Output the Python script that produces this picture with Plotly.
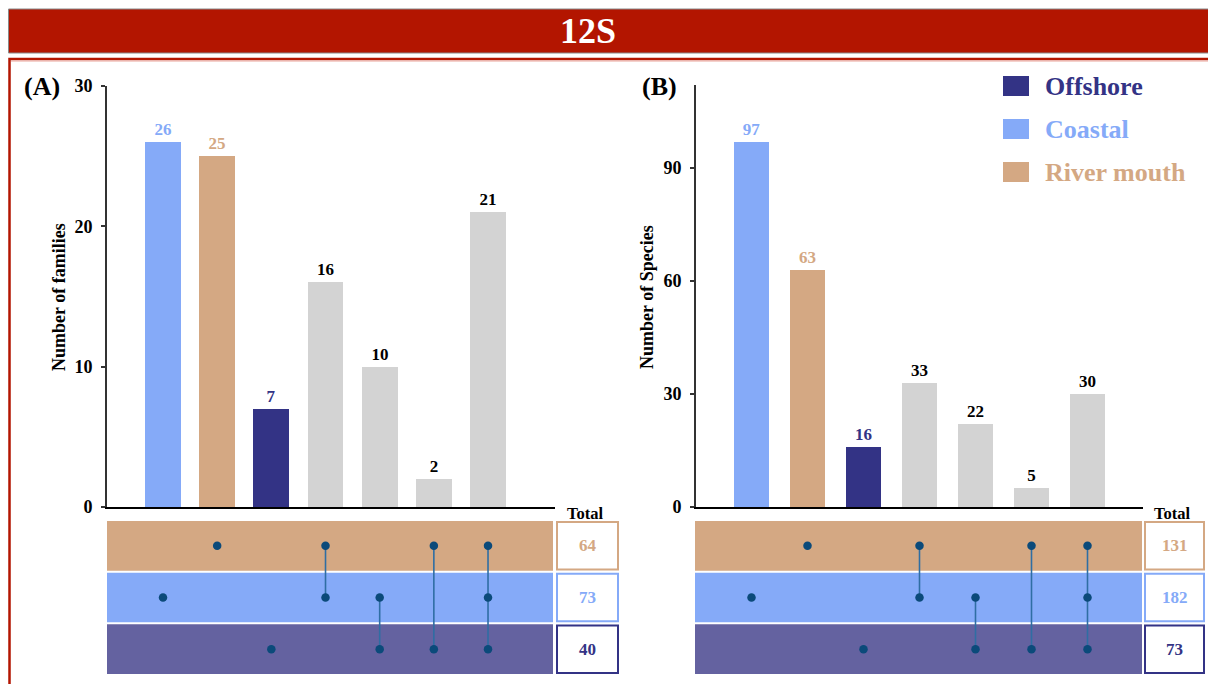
import plotly.graph_objects as go

# ---------------- data ----------------
categories = ["Coastal", "River mouth", "Offshore", "River mouth & Coastal",
              "Coastal & Offshore", "River mouth & Offshore", "All three"]
families = [26, 25, 7, 16, 10, 2, 21]
species = [97, 63, 16, 33, 22, 5, 30]
sets = ["Offshore", "Coastal", "River mouth"]          # matrix rows, bottom -> top
membership = [["Coastal"], ["River mouth"], ["Offshore"],
              ["River mouth", "Coastal"], ["Coastal", "Offshore"],
              ["River mouth", "Offshore"], ["River mouth", "Coastal", "Offshore"]]
yticks_a = [0, 10, 20, 30]
yticks_b = [0, 30, 60, 90]

# ---------------- styles ----------------
W, H = 1208, 684
FONT = "Times New Roman, Liberation Serif, serif"
C_COAST = "#85aaf8"
C_RIVER = "#d4a883"
C_OFF = "#333385"
C_OFF_ROW = "#6462a0"
C_GREY = "#d3d3d3"
C_DOT = "#0b4a7a"
C_LINK = "#2f6ea3"
C_RED = "#b31500"
set_color = {"Coastal": C_COAST, "River mouth": C_RIVER, "Offshore": C_OFF}
row_color = {"Coastal": C_COAST, "River mouth": C_RIVER, "Offshore": C_OFF_ROW}
box_color = {"Coastal": C_COAST, "River mouth": C_RIVER, "Offshore": C_OFF}


def px(x):
    return x / W


def py(y):
    return 1 - y / H


def bar_colors(mem):
    return [set_color[m[0]] if len(m) == 1 else C_GREY for m in mem]


def text_colors(mem):
    return [set_color[m[0]] if len(m) == 1 else "black" for m in mem]


xs = list(range(len(categories)))
fig = go.Figure()

panels = [
    dict(vals=families, xa="x", ya="y", mx="x2", my="y2", xaxis="xaxis", yaxis="yaxis",
         mxaxis="xaxis2", myaxis="yaxis2",
         ax_left=107, ax_right=555, m_left=107, m_right=553, c0=163, step=54.17,
         top=86, yr=[0, 30], ticks=yticks_a, bw=0.66,
         box=(557, 618), label="(A)", label_x=22, ytitle="Number of families", ytitle_x=59,
         total_x=585),
    dict(vals=species, xa="x3", ya="y3", mx="x4", my="y4", xaxis="xaxis3", yaxis="yaxis3",
         mxaxis="xaxis4", myaxis="yaxis4",
         ax_left=696, ax_right=1143, m_left=695, m_right=1142, c0=751.5, step=56.0,
         top=85, yr=[0, 112], ticks=yticks_b, bw=0.63,
         box=(1145, 1204), label="(B)", label_x=640, ytitle="Number of Species", ytitle_x=647,
         total_x=1172),
]

shapes = []
annotations = []
layout_axes = {}

for p in panels:
    # bars
    fig.add_trace(go.Bar(
        x=xs, y=p["vals"], xaxis=p["xa"], yaxis=p["ya"],
        marker=dict(color=bar_colors(membership), line=dict(width=0)),
        width=p["bw"], text=p["vals"], textposition="outside",
        textfont=dict(family=FONT, size=17, color=text_colors(membership), weight="bold"),
        cliponaxis=False, showlegend=False, hoverinfo="skip"))

    # matrix connections and dots
    for i, mem in enumerate(membership):
        rows = sorted(sets.index(m) for m in mem)
        if len(rows) > 1:
            fig.add_trace(go.Scatter(
                x=[i, i], y=[rows[0], rows[-1]], xaxis=p["mx"], yaxis=p["my"],
                mode="lines", line=dict(color=C_LINK, width=1.6),
                showlegend=False, hoverinfo="skip"))
        fig.add_trace(go.Scatter(
            x=[i] * len(rows), y=rows, xaxis=p["mx"], yaxis=p["my"],
            mode="markers", marker=dict(color=C_DOT, size=8.5),
            showlegend=False, hoverinfo="skip"))

    r0 = -(p["c0"] - p["ax_left"]) / p["step"]
    r1 = 6 + (p["ax_right"] - (p["c0"] + 6 * p["step"])) / p["step"]
    mr0 = -(p["c0"] - p["m_left"]) / p["step"]
    mr1 = 6 + (p["m_right"] - (p["c0"] + 6 * p["step"])) / p["step"]

    layout_axes[p["xaxis"]] = dict(
        domain=[px(p["ax_left"]), px(p["ax_right"])], range=[r0, r1],
        anchor=p["ya"], showline=True, linecolor="black", linewidth=2,
        showticklabels=False, ticks="", showgrid=False, zeroline=False, automargin=False)
    layout_axes[p["yaxis"]] = dict(
        domain=[py(507), py(p["top"])], range=p["yr"], anchor=p["xa"],
        tickvals=p["ticks"], ticks="outside", ticklen=4, tickwidth=1.5, tickcolor="#333",
        showline=True, linecolor="#333", linewidth=2, showgrid=False, zeroline=False,
        ticklabelstandoff=5, automargin=False,
        tickfont=dict(family=FONT, size=18, color="black", weight="bold"))
    layout_axes[p["mxaxis"]] = dict(
        domain=[px(p["m_left"]), px(p["m_right"])], range=[mr0, mr1], anchor=p["my"],
        visible=False, automargin=False)
    layout_axes[p["myaxis"]] = dict(
        domain=[py(675), py(520)], range=[-0.5, 2.5], anchor=p["mx"], visible=False,
        automargin=False)

    for j, s in enumerate(sets):
        shapes.append(dict(type="rect", xref=p["mx"] + " domain", yref=p["my"],
                           x0=0, x1=1, y0=j - 0.48, y1=j + 0.48,
                           fillcolor=row_color[s], line=dict(width=0), layer="below"))
        total = sum(v for v, mem in zip(p["vals"], membership) if s in mem)
        shapes.append(dict(type="rect", xref="paper", yref=p["my"],
                           x0=px(p["box"][0]), x1=px(p["box"][1]),
                           y0=j - 0.46, y1=j + 0.46, fillcolor="white",
                           line=dict(color=box_color[s], width=2)))
        annotations.append(dict(
            x=px((p["box"][0] + p["box"][1]) / 2), y=j, xref="paper", yref=p["my"],
            text=str(total), showarrow=False, xanchor="center", yanchor="middle",
            font=dict(family=FONT, size=17, color=box_color[s], weight="bold")))

    annotations.append(dict(x=px(p["total_x"]), y=py(513), xref="paper", yref="paper",
                            text="Total", showarrow=False, xanchor="center", yanchor="middle",
                            font=dict(family=FONT, size=16.5, color="black", weight="bold")))
    annotations.append(dict(x=px(p["label_x"]), y=py(86), xref="paper", yref="paper",
                            text=p["label"], showarrow=False, xanchor="left", yanchor="middle",
                            font=dict(family=FONT, size=26, color="black", weight="bold")))
    annotations.append(dict(x=px(p["ytitle_x"]), y=py(297), xref="paper", yref="paper",
                            text=p["ytitle"], showarrow=False, textangle=-90,
                            xanchor="center", yanchor="middle",
                            font=dict(family=FONT, size=18, color="black", weight="bold")))

# title bar and frame
shapes.insert(0, dict(type="rect", xref="paper", yref="paper", x0=px(8.5), x1=px(1215),
                      y0=py(53), y1=py(9), fillcolor=C_RED, line=dict(color="#8a8a8a", width=1),
                      layer="below"))
shapes.insert(1, dict(type="rect", xref="paper", yref="paper", x0=px(9.5), x1=px(1220),
                      y0=py(700), y1=py(59), fillcolor="rgba(0,0,0,0)",
                      line=dict(color=C_RED, width=2.5), layer="below"))
shapes.insert(2, dict(type="line", xref="paper", yref="paper", x0=px(11), x1=px(1220),
                      y0=py(61), y1=py(61), line=dict(color="#eaa49a", width=1),
                      layer="below"))
annotations.append(dict(x=px(588), y=py(31), xref="paper", yref="paper", text="12S",
                        showarrow=False, xanchor="center", yanchor="middle",
                        font=dict(family=FONT, size=36, color="white", weight="bold")))

# legend (custom)
legend_items = [("Offshore", C_OFF, 86), ("Coastal", C_COAST, 129), ("River mouth", C_RIVER, 172)]
for name, col, yc in legend_items:
    shapes.append(dict(type="rect", xref="paper", yref="paper", x0=px(1003), x1=px(1029),
                       y0=py(yc + 10), y1=py(yc - 10), fillcolor=col, line=dict(width=0)))
    annotations.append(dict(x=px(1043), y=py(yc), xref="paper", yref="paper", text=name,
                            showarrow=False, xanchor="left", yanchor="middle",
                            font=dict(family=FONT, size=26, color=col, weight="bold")))

fig.update_layout(
    width=W, height=H, margin=dict(l=0, r=0, t=0, b=0, autoexpand=False),
    paper_bgcolor="white", plot_bgcolor="rgba(0,0,0,0)",
    shapes=shapes, annotations=annotations, showlegend=False,
    bargap=0, **layout_axes)

fig.write_html(
    "out.html",
    config={"displayModeBar": False},
    post_script="document.body.style.margin='0';document.body.style.overflow='hidden';")
